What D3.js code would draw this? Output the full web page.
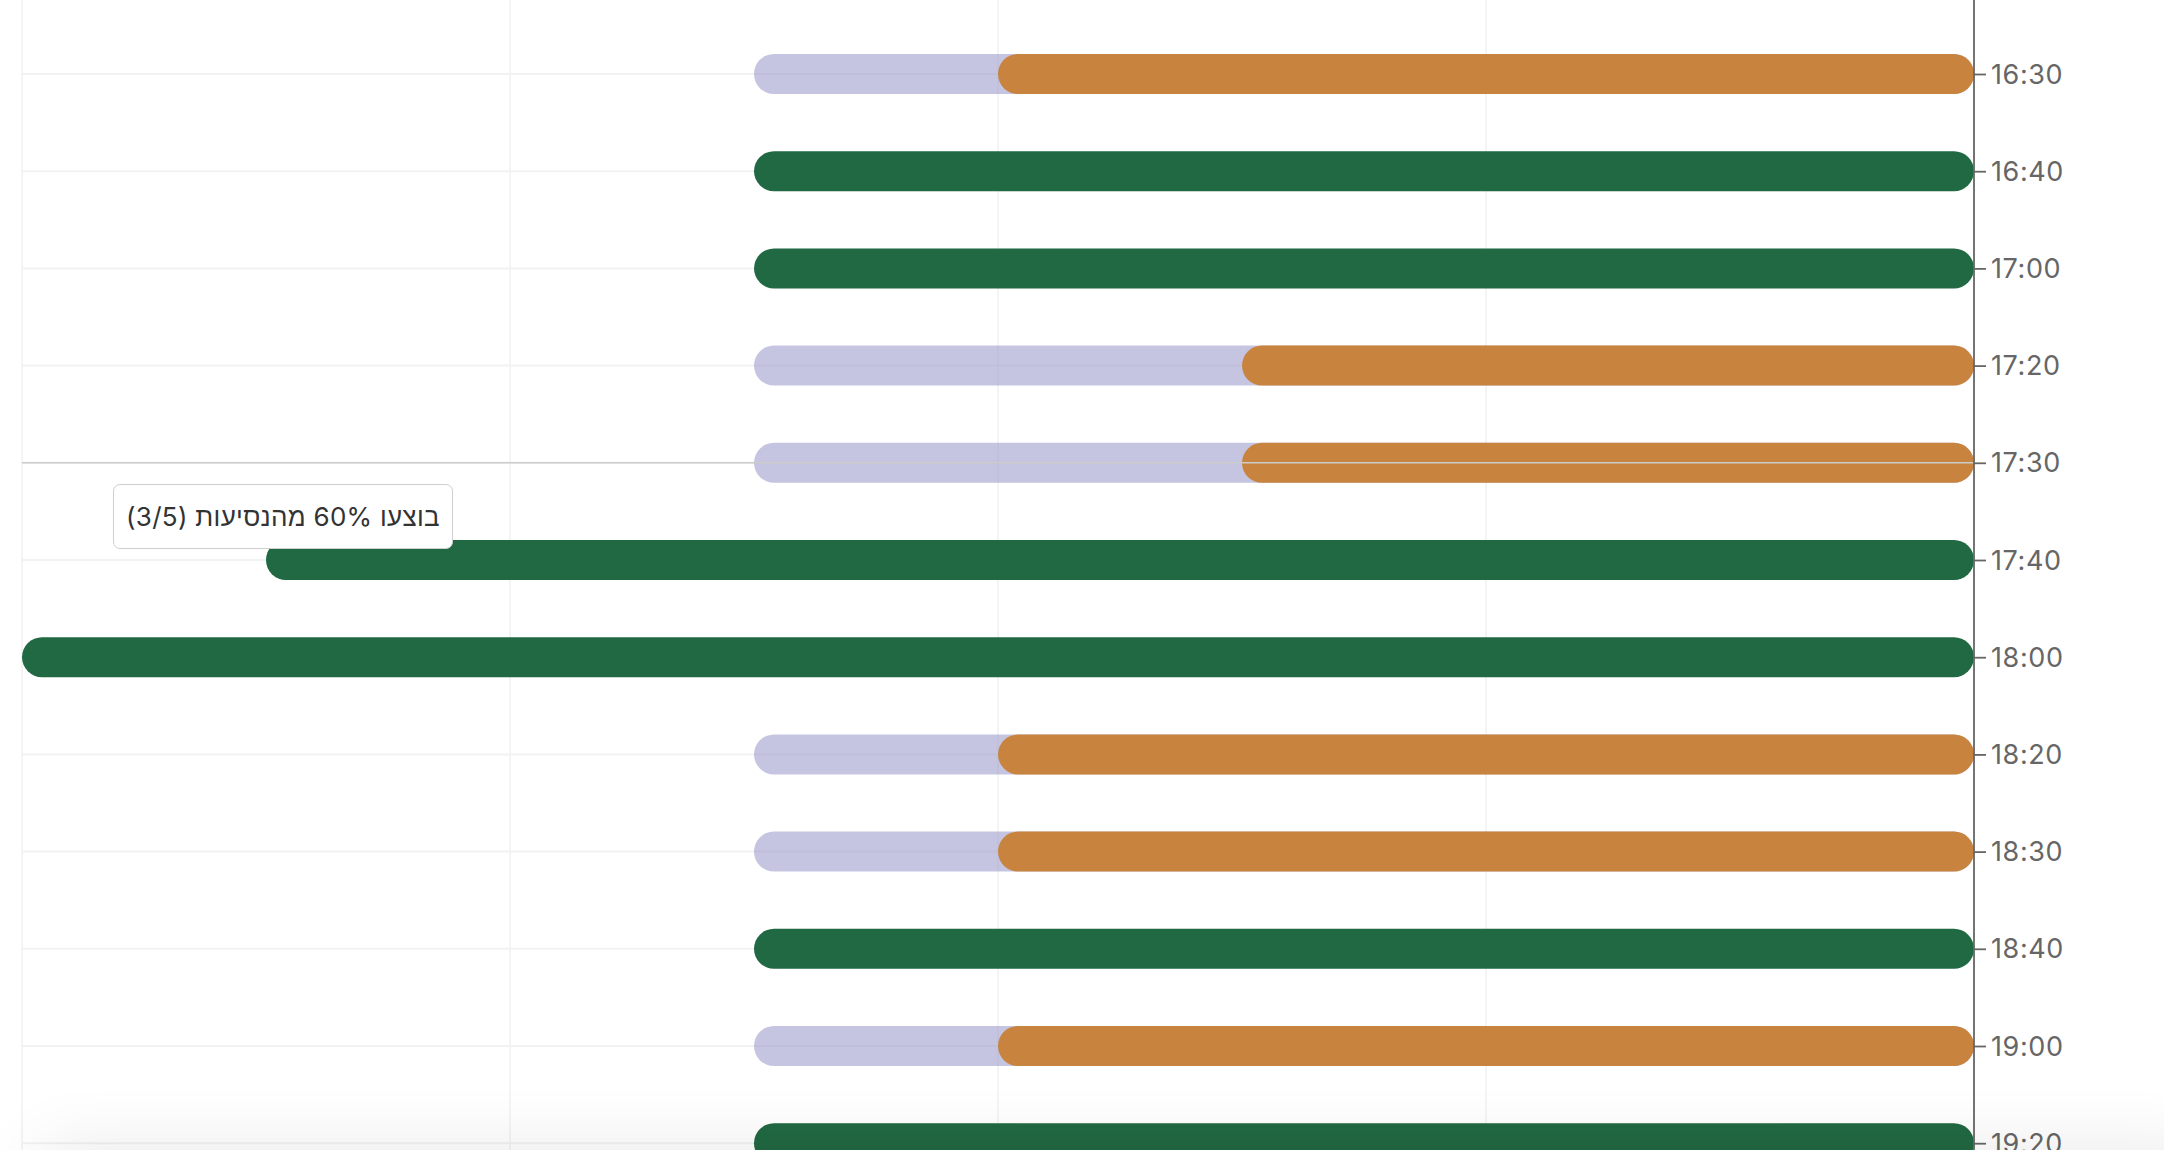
<!DOCTYPE html>
<html lang="he">
<head>
<meta charset="utf-8">
<script src="https://cdn.jsdelivr.net/npm/d3@7"></script>
<style>
  html, body { margin: 0; padding: 0; background: #fff; overflow: hidden; }
  #wrap { position: relative; width: 2164px; height: 1150px; overflow: hidden; }
  svg { position: absolute; left: 0; top: 0; }
  .tip {
    position: absolute; background: #fff; border: 1.5px solid #cfcfcf; border-radius: 7px;
    font-family: Inter, "Liberation Sans", "DejaVu Sans", sans-serif; font-size: 26px; color: #333;
    padding: 0 12px; height: 65px; line-height: 63px; white-space: nowrap; box-sizing: border-box;
    letter-spacing: 0.3px;
  }
  .shadow {
    position: absolute; left: 40px; right: -40px; top: 1152px; height: 120px;
    box-shadow: 0 -4px 70px rgba(0,0,0,0.09);
    background: #fff;
  }
</style>
</head>
<body>
<div id="wrap"></div>
<script>
// ---- data ----
const departures = ["16:30","16:40","17:00","17:20","17:30","17:40","18:00","18:20","18:30","18:40","19:00","19:20"];
const plannedTrips = [5, 5, 5, 5, 5, 7, 8, 5, 5, 5, 5, 5];
const doneTrips    = [4, 5, 5, 3, 3, 7, 8, 4, 4, 5, 4, 5];
const xTicks = [0, 2, 4, 6, 8];
const hoveredRow = "17:30";

const W = 2164, H = 1150;
const axisX = 1974, leftX = 22;
const colors = { planned: "#8b8bc3", partial: "#c8843f", full: "#216942" };

const rows = departures.map((d, i) => ({ time: d, total: plannedTrips[i], done: doneTrips[i] }));

const wrap = d3.select("#wrap");
const svg = wrap.append("svg").attr("width", W).attr("height", H);

const x = d3.scaleLinear().domain([0, 8]).range([axisX, leftX]);
const y = d3.scalePoint().domain(departures).range([74, 1143.2]);
const barH = 40;

// grid
const grid = svg.append("g");
grid.selectAll("line.v").data(xTicks).join("line")
  .attr("x1", d => x(d)).attr("x2", d => x(d)).attr("y1", 0).attr("y2", H)
  .attr("stroke", "#f0f0f0").attr("stroke-width", 1.5);
grid.selectAll("line.h").data(departures).join("line")
  .attr("x1", leftX).attr("x2", axisX).attr("y1", d => y(d)).attr("y2", d => y(d))
  .attr("stroke", "#f2f2f2").attr("stroke-width", 2);

// bars
const bars = svg.append("g");
const partial = rows.filter(r => r.done < r.total);
bars.selectAll("rect.planned").data(partial).join("rect")
  .attr("x", d => x(d.total)).attr("width", d => x(0) - x(d.total))
  .attr("y", d => y(d.time) - barH / 2).attr("height", barH)
  .attr("rx", barH / 2).attr("fill", colors.planned).attr("fill-opacity", 0.5);
bars.selectAll("rect.done").data(rows).join("rect")
  .attr("x", d => x(d.done)).attr("width", d => x(0) - x(d.done))
  .attr("y", d => y(d.time) - barH / 2).attr("height", barH)
  .attr("rx", barH / 2).attr("fill", d => d.done === d.total ? colors.full : colors.partial);

// crosshair
svg.append("line")
  .attr("x1", leftX).attr("x2", axisX).attr("y1", y(hoveredRow)).attr("y2", y(hoveredRow))
  .attr("stroke", "#cccccc").attr("stroke-width", 1.6);

// y axis on right
const axis = svg.append("g").attr("transform", `translate(${axisX},0)`)
  .call(d3.axisRight(y).tickSize(12).tickSizeOuter(0).tickPadding(5));
axis.select(".domain").remove();
axis.append("line").attr("x1", 0).attr("x2", 0).attr("y1", 0).attr("y2", H)
  .attr("stroke", "#666").attr("stroke-width", 1.8);
axis.selectAll(".tick line").attr("stroke", "#666").attr("stroke-width", 1.8);
axis.selectAll(".tick text")
  .attr("fill", "#666").attr("font-size", 27)
  .attr("letter-spacing", "0.6px")
  .attr("font-family", "Inter, 'Liberation Sans', sans-serif")
  .attr("dy", "0.34em");

// tooltip
const h = rows.find(r => r.time === hoveredRow);
const pct = Math.round(h.done / h.total * 100);
wrap.append("div").attr("class", "tip").attr("dir", "rtl")
  .style("left", "113px").style("top", (y(hoveredRow) + 21) + "px")
  .text(`בוצעו ${pct}% מהנסיעות (${h.done}/${h.total})`);

// bottom shadow of overlaying panel
wrap.append("div").attr("class", "shadow");
</script>
</body>
</html>
